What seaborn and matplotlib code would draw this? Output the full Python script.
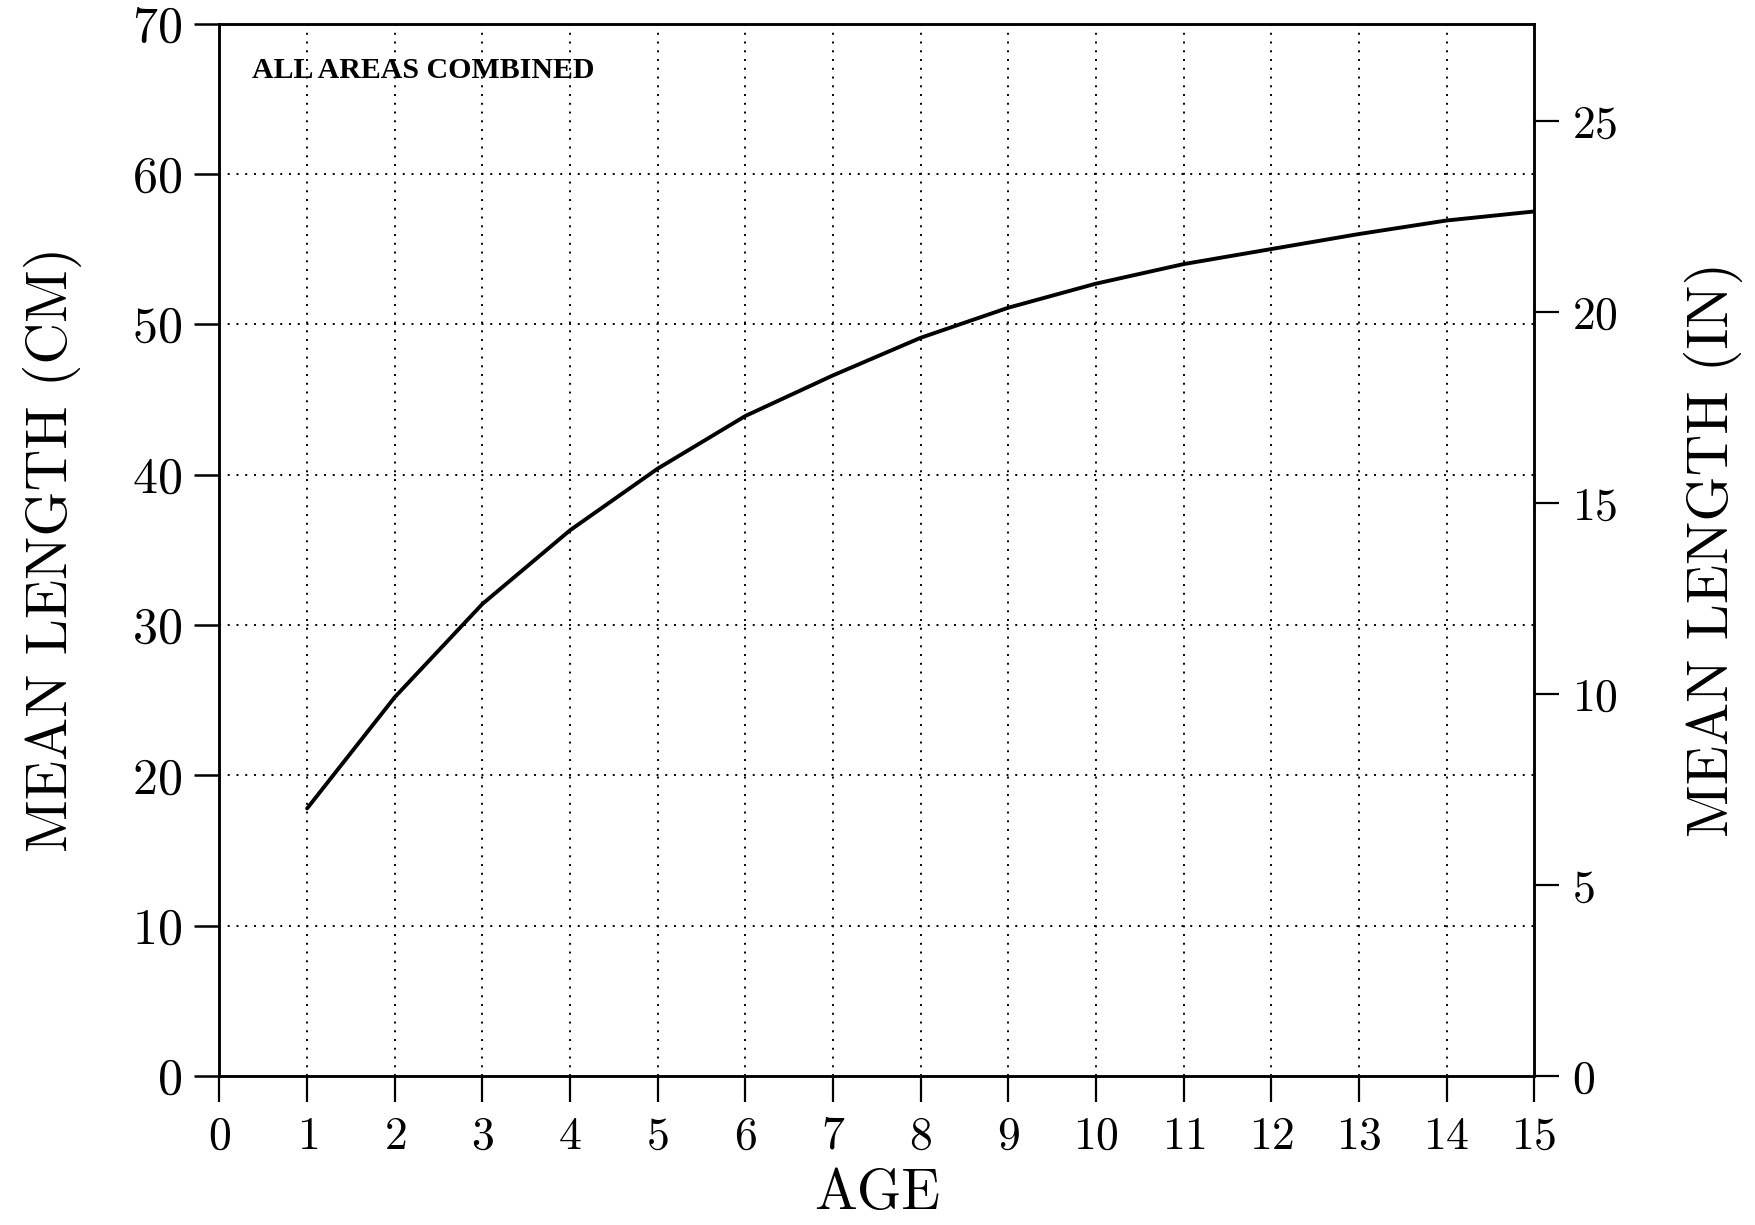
import matplotlib
matplotlib.use("Agg")
import matplotlib.pyplot as plt
import seaborn as sns

# Mean length at age, all areas combined
ages = [1, 2, 3, 4, 5, 6, 7, 8, 9, 10, 11, 12, 13, 14, 15]
mean_length_cm = [17.8, 25.2, 31.4, 36.3, 40.4, 43.9, 46.6, 49.1, 51.1,
                  52.7, 54.0, 55.0, 56.0, 56.9, 57.5]

x_ticks = list(range(0, 16))
cm_ticks = [0, 10, 20, 30, 40, 50, 60, 70]
in_ticks = [0, 5, 10, 15, 20, 25]
CM_PER_IN = 2.54

sns.set_style("ticks")
plt.rcParams['font.family'] = ['cmr10', 'DejaVu Serif']
plt.rcParams['axes.formatter.use_mathtext'] = True
plt.rcParams['text.color'] = 'black'
plt.rcParams['axes.labelcolor'] = 'black'

fig = plt.figure(figsize=(17.56, 12.25), dpi=100)
ax = fig.add_axes([0.125, 0.1216, 0.7487, 0.8592])

sns.lineplot(x=ages, y=mean_length_cm, ax=ax, color='black', linewidth=2.8)

ax.set_xlim(0, 15)
ax.set_ylim(0, 70)
ax.set_xticks(x_ticks)
ax.set_yticks(cm_ticks)

# dotted grid only on the interior lines
for x in x_ticks[1:-1]:
    ax.axvline(x, color='black', linestyle=(0, (1, 3.5)), linewidth=1.4, zorder=0)
for y in cm_ticks[1:-1]:
    ax.axhline(y, color='black', linestyle=(0, (1, 3.5)), linewidth=1.4, zorder=0)

for s in ax.spines.values():
    s.set_linewidth(1.8)
    s.set_color('black')

ax.tick_params(axis='x', direction='out', length=19, width=1.6, pad=10,
               labelsize=33, colors='black', top=False)
ax.tick_params(axis='y', direction='out', length=18, width=1.8, pad=9,
               labelsize=36, colors='black', right=False)

ax.set_xlabel('AGE', fontsize=41, labelpad=8)
ax.set_ylabel('MEAN LENGTH (CM)', fontsize=41.5, labelpad=36)

# right axis in inches
ax2 = ax.twinx()
ax2.set_ylim(0, 70 / CM_PER_IN)
ax2.set_yticks(in_ticks)
ax2.tick_params(axis='y', direction='out', length=18, width=1.6, pad=9,
                labelsize=33, colors='black')
for s in ax2.spines.values():
    s.set_linewidth(1.8)
    s.set_color('black')
ax2.set_ylabel('MEAN LENGTH (IN)', fontsize=41.5, labelpad=48)

ax.text(0.37, 66.9, 'ALL AREAS COMBINED', fontsize=21.5, weight='bold',
        color='black', family=['Liberation Serif'], va='center', ha='left')

fig.savefig('out.png', dpi=100)
